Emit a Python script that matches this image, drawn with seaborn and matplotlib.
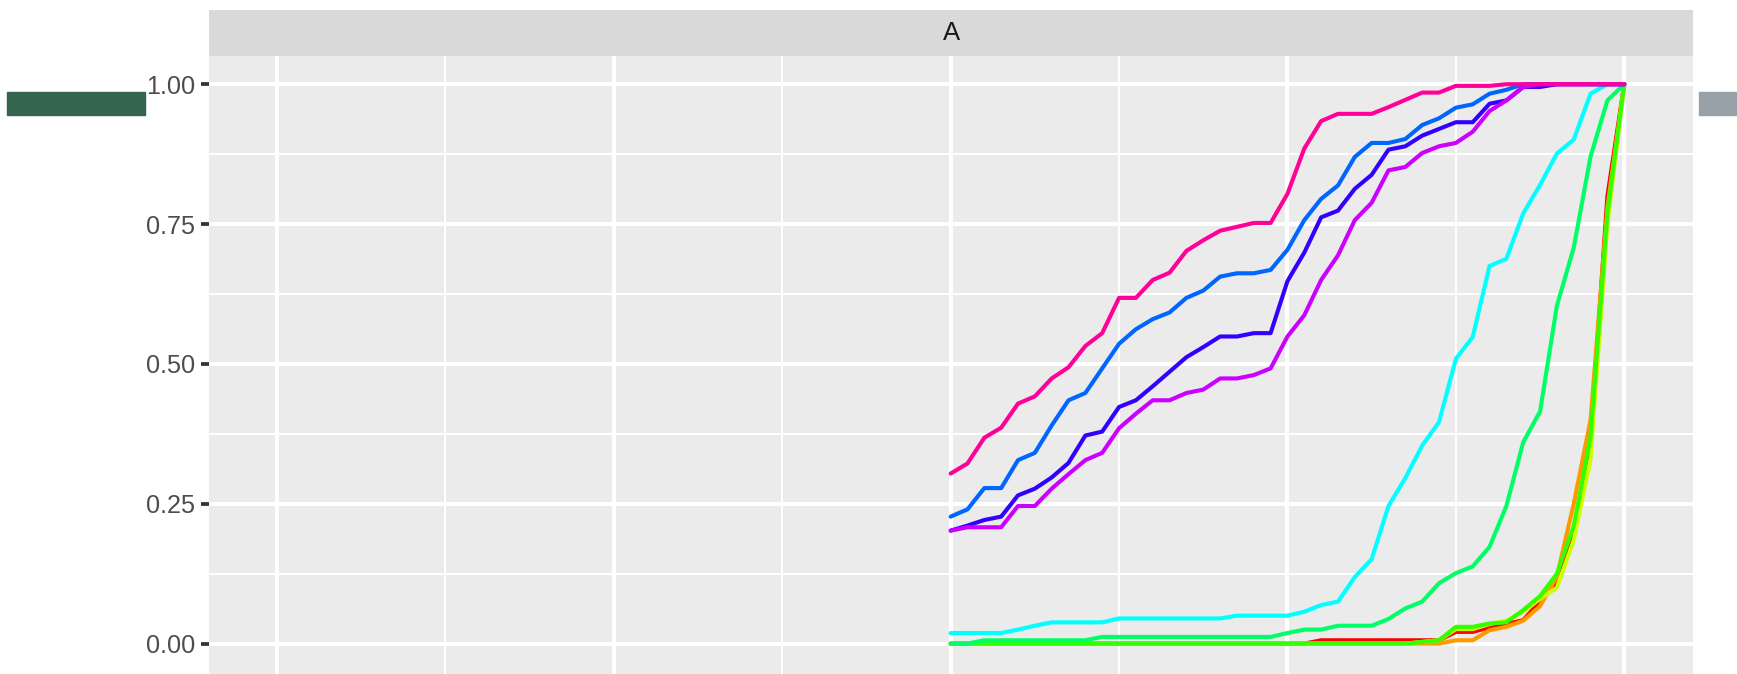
import numpy as np
import pandas as pd
import matplotlib
matplotlib.use("Agg")
import matplotlib.pyplot as plt
from matplotlib.patches import Rectangle
import seaborn as sns

# x grid shared by every curve (0.5 .. 1.0 in steps of 0.0125)
x_vals = [round(0.5 + 0.0125 * k, 4) for k in range(41)]

red = [0.0] * 22 + [0.006] * 8 + [0.021, 0.021, 0.029, 0.035, 0.042, 0.075, 0.11, 0.20, 0.36, 0.80, 1.0]
orange = [0.0] * 30 + [0.006, 0.006, 0.024, 0.030, 0.041, 0.067, 0.12, 0.25, 0.40, 0.78, 1.0]
yellow = [0.0] * 28 + [0.003, 0.006, 0.026, 0.026, 0.035, 0.041, 0.057, 0.080, 0.10, 0.185, 0.33, 0.75, 1.0]
green = [0.0] * 28 + [0.003, 0.006, 0.030, 0.030, 0.036, 0.038, 0.060, 0.085, 0.125, 0.21, 0.37, 0.77, 1.0]
spring = ([0.0] * 2 + [0.006] * 7 + [0.012] * 11 + [0.019, 0.025, 0.025, 0.032, 0.032, 0.032]
          + [0.044, 0.063, 0.075, 0.108, 0.126, 0.138, 0.173, 0.246, 0.360, 0.415,
             0.604, 0.708, 0.871, 0.971, 1.0])
cyan = ([0.019] * 4 + [0.025, 0.032] + [0.038] * 4 + [0.045] * 7 + [0.050] * 4
        + [0.057, 0.069, 0.075, 0.119, 0.151, 0.246, 0.296, 0.354, 0.396, 0.509,
           0.548, 0.675, 0.688, 0.769, 0.820, 0.876, 0.901, 0.983, 1.0, 1.0])
azure = [0.227, 0.240, 0.278, 0.278, 0.328, 0.341, 0.390, 0.435, 0.448, 0.492,
         0.536, 0.562, 0.580, 0.592, 0.618, 0.631, 0.656, 0.662, 0.662, 0.668,
         0.704, 0.757, 0.795, 0.819, 0.870, 0.895, 0.895, 0.902, 0.927, 0.939,
         0.958, 0.964, 0.983, 0.990] + [1.0] * 7
violet = [0.202, 0.211, 0.221, 0.227, 0.265, 0.277, 0.297, 0.323, 0.372, 0.379,
          0.423, 0.435, 0.460, 0.486, 0.512, 0.530, 0.549, 0.549, 0.555, 0.555,
          0.648, 0.699, 0.762, 0.774, 0.813, 0.838, 0.883, 0.889, 0.908, 0.920,
          0.932, 0.932, 0.965, 0.971, 0.995, 0.995] + [1.0] * 5
purple = [0.202, 0.208, 0.208, 0.208, 0.246, 0.246, 0.277, 0.303, 0.328, 0.341,
          0.385, 0.411, 0.435, 0.435, 0.448, 0.454, 0.474, 0.474, 0.480, 0.492,
          0.549, 0.587, 0.650, 0.694, 0.757, 0.788, 0.846, 0.852, 0.877, 0.889,
          0.895, 0.915, 0.952, 0.971, 0.995] + [1.0] * 6
pink = [0.304, 0.322, 0.368, 0.386, 0.429, 0.442, 0.474, 0.494, 0.532, 0.555,
        0.618, 0.618, 0.650, 0.663, 0.702, 0.721, 0.738, 0.745, 0.752, 0.752,
        0.804, 0.885, 0.934, 0.947, 0.947, 0.947, 0.959, 0.972, 0.985, 0.985,
        0.997, 0.997, 0.997] + [1.0] * 8

series_names = ["1", "2", "3", "4", "5", "6", "7", "8", "9", "10"]
series_values = [red, orange, yellow, green, spring, cyan, azure, violet, purple, pink]
series_colors = ["#FF0000", "#FF9900", "#CCFF00", "#33FF00", "#00FF66",
                 "#00FFFF", "#0066FF", "#3300FF", "#CC00FF", "#FF0099"]

y_ticks = [0.0, 0.25, 0.5, 0.75, 1.0]
y_tick_labels = ["0.00", "0.25", "0.50", "0.75", "1.00"]
strip_label = "A"

frames = []
for name, vals in zip(series_names, series_values):
    assert len(vals) == len(x_vals), name
    frames.append(pd.DataFrame({"x": x_vals, "y": vals, "series": name}))
df = pd.concat(frames, ignore_index=True)

sns.set_theme(style="white")
plt.rcParams["font.family"] = ["Liberation Sans", "DejaVu Sans"]

W, H = 1737, 674
fig = plt.figure(figsize=(W / 100, H / 100), dpi=100)

left_px, right_px = 209.4, 1692.7
panel_top_px, strip_top_px = 56.0, 9.5

ax = fig.add_axes([left_px / W, 0.0, (right_px - left_px) / W, (H - panel_top_px) / H])
ax.set_facecolor("#EBEBEB")
for s in ax.spines.values():
    s.set_visible(False)

sns.lineplot(data=df, x="x", y="y", hue="series", hue_order=series_names,
             palette=dict(zip(series_names, series_colors)), estimator=None,
             sort=False, legend=False, linewidth=2.95, ax=ax)

ax.set_xlim(-0.0502, 1.0508)
ax.set_ylim(-0.0543, 1.0504)
ax.set_xticks([0.0, 0.25, 0.5, 0.75, 1.0])
ax.set_xticks([0.125, 0.375, 0.625, 0.875], minor=True)
ax.set_yticks(y_ticks)
ax.set_yticks([0.125, 0.375, 0.625, 0.875], minor=True)
ax.set_yticklabels(y_tick_labels)
ax.grid(which="major", color="white", linewidth=2.95)
ax.grid(which="minor", color="white", linewidth=1.48)
ax.set_axisbelow(True)
ax.set_xlabel("")
ax.set_ylabel("")
ax.tick_params(axis="x", which="both", length=0, labelbottom=False)
ax.tick_params(axis="y", which="major", length=5.8, width=2.7, color="#333333",
               pad=4.5, labelsize=18.2, labelcolor="#4D4D4D", left=True)
ax.tick_params(axis="y", which="minor", length=0)

# facet strip
sax = fig.add_axes([left_px / W, (H - panel_top_px) / H,
                    (right_px - left_px) / W, (panel_top_px - strip_top_px) / H])
sax.set_facecolor("#D9D9D9")
sax.set_xticks([])
sax.set_yticks([])
for s in sax.spines.values():
    s.set_visible(False)
sax.text(0.5, 0.5, strip_label, ha="center", va="center", fontsize=18.5,
         color="#1A1A1A", transform=sax.transAxes)

# side blocks
fig.patches.append(Rectangle((6.5 / W, 1 - 115 / H), (145 - 6.5) / W, 23 / H,
                             transform=fig.transFigure, color="#35654F", zorder=5))
fig.patches.append(Rectangle((1699 / W, 1 - 115 / H), (W - 1699) / W, 23 / H,
                             transform=fig.transFigure, color="#98A0A8", zorder=5))

fig.savefig("out.png", dpi=100, facecolor="white")
